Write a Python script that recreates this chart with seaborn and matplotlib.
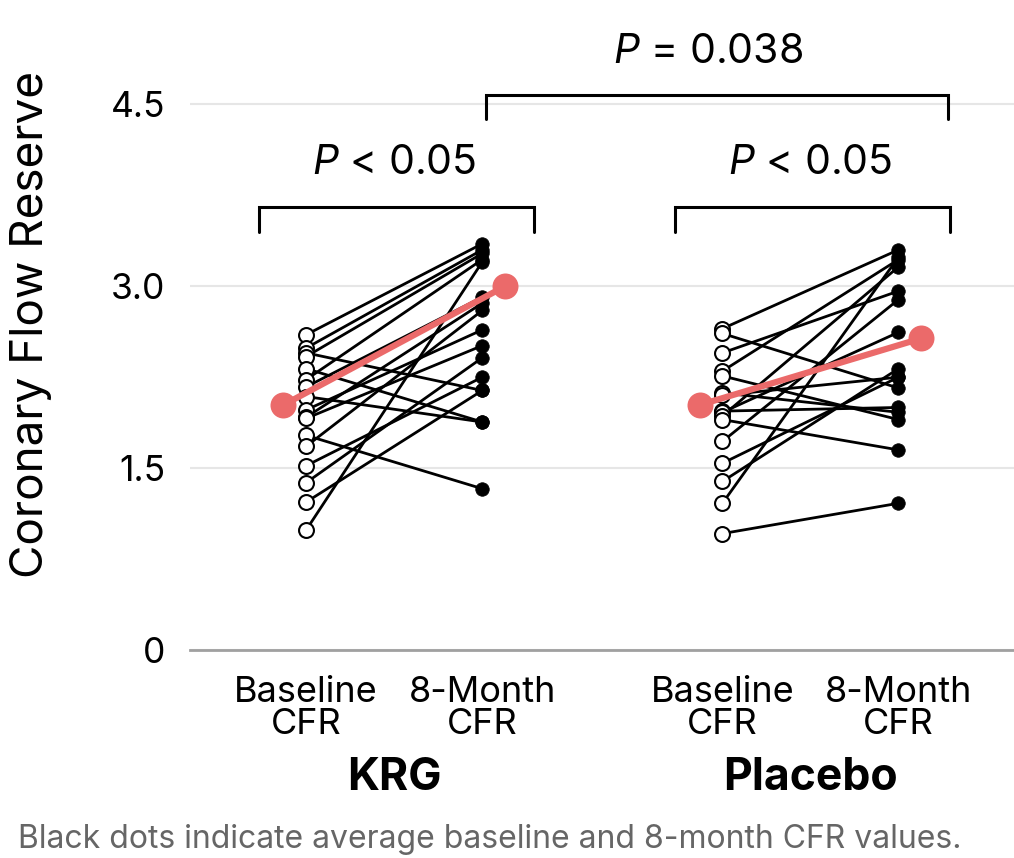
import numpy as np
import pandas as pd
import matplotlib
matplotlib.use("Agg")
import matplotlib.pyplot as plt
import seaborn as sns

# Datos
groups = ["KRG", "Placebo"]
time_labels = ["Baseline\nCFR", "8-Month\nCFR"]

krg_baseline = [2.60, 2.49, 2.45, 2.42, 2.32, 2.23, 2.17, 2.09, 1.98, 1.92,
                1.91, 1.77, 1.68, 1.52, 1.38, 1.22, 0.99]
krg_month8 = [3.35, 3.30, 2.14, 3.27, 1.88, 3.22, 2.91, 1.88, 2.64, 2.86,
              2.51, 1.33, 2.80, 2.25, 2.41, 2.14, 3.20]

placebo_baseline = [2.65, 2.61, 2.45, 2.30, 2.26, 2.12, 2.10, 1.97, 1.96, 1.93,
                    1.90, 1.72, 1.54, 1.39, 1.21, 0.96]
placebo_month8 = [3.30, 2.16, 2.96, 3.22, 1.90, 1.96, 2.25, 2.00, 2.62, 3.16,
                  1.65, 2.89, 2.25, 2.32, 3.24, 1.21]

mean_baseline = [2.02, 2.02]
mean_month8 = [3.00, 2.57]

p_within = ["$P$ < 0.05", "$P$ < 0.05"]
p_between = "$P$ = 0.038"

y_ticks = [0, 1.5, 3.0, 4.5]
y_ticklabels = ["0", "1.5", "3.0", "4.5"]

# Estilo global
sns.set_theme(style="white")
plt.rcParams["font.family"] = ["Inter", "DejaVu Sans"]
plt.rcParams.update({
    "mathtext.fontset": "custom",
    "mathtext.it": "Inter:italic",
    "mathtext.rm": "Inter",
    "text.color": "black",
    "axes.labelcolor": "black",
    "xtick.color": "black",
    "ytick.color": "black",
})

RED = "#EB6A6A"
GROUP_OFFSET = 2.364
MEAN_SHIFT = 0.13

rows = []
for g, (base, m8) in enumerate([(krg_baseline, krg_month8),
                                (placebo_baseline, placebo_month8)]):
    for i, (b, m) in enumerate(zip(base, m8)):
        rows.append({"pid": f"{g}-{i}", "x": g * GROUP_OFFSET, "cfr": b, "time": "base"})
        rows.append({"pid": f"{g}-{i}", "x": g * GROUP_OFFSET + 1, "cfr": m, "time": "m8"})
df = pd.DataFrame(rows)

means = []
for g in range(len(groups)):
    means.append({"grp": g, "x": g * GROUP_OFFSET - MEAN_SHIFT, "cfr": mean_baseline[g]})
    means.append({"grp": g, "x": g * GROUP_OFFSET + 1 + MEAN_SHIFT, "cfr": mean_month8[g]})
df_mean = pd.DataFrame(means)

fig = plt.figure(figsize=(10.14, 8.58), dpi=100)
ax = fig.add_axes([190 / 1014, 208 / 858, 824 / 1014, 650 / 858])

# Líneas pareadas por paciente
sns.lineplot(data=df, x="x", y="cfr", units="pid", estimator=None,
             color="black", lw=2.0, ax=ax, legend=False, zorder=3)
sns.scatterplot(data=df[df.time == "base"], x="x", y="cfr", s=115,
                facecolor="white", edgecolor="black", linewidth=1.5, ax=ax, zorder=4)
sns.scatterplot(data=df[df.time == "m8"], x="x", y="cfr", s=95,
                color="black", edgecolor="black", linewidth=0.5, ax=ax, zorder=4)

# Medias
sns.lineplot(data=df_mean, x="x", y="cfr", units="grp", estimator=None,
             color=RED, lw=4.5, ax=ax, legend=False, zorder=5)
sns.scatterplot(data=df_mean, x="x", y="cfr", s=300, color=RED,
                edgecolor=RED, ax=ax, zorder=6)

ax.set_xlim(-0.66, 4.02)
ax.set_ylim(0, 5.36)
ax.set_yticks(y_ticks)
ax.set_yticklabels(y_ticklabels, fontsize=25.5)
ax.yaxis.grid(True, color="#e6e6e6", lw=1.5)
ax.set_axisbelow(True)
for s in ["top", "right", "left"]:
    ax.spines[s].set_visible(False)
ax.spines["bottom"].set_color("#a0a0a0")
ax.spines["bottom"].set_linewidth(2)
ax.tick_params(axis="y", length=0, pad=18)
ax.tick_params(axis="x", length=0, pad=19)

xpos = [0, 1, GROUP_OFFSET, GROUP_OFFSET + 1]
ax.set_xticks(xpos)
ax.set_xticklabels(time_labels * 2, fontsize=26, linespacing=0.95)
ax.set_xlabel("")
ax.set_ylabel("Coronary Flow Reserve", fontsize=33)
ax.yaxis.set_label_coords(-0.167, 0.5)

# Nombres de grupo
for g, name in enumerate(groups):
    ax.text(g * GROUP_OFFSET + 0.5, -1.055, name, ha="center", va="center",
            fontsize=32, fontweight="bold")

# Corchetes de significancia
def bracket(x0, x1, y, drop, label, tx, ty):
    ax.plot([x0, x0, x1, x1], [y - drop, y, y, y - drop], color="black",
            lw=2.2, clip_on=False, solid_joinstyle="miter")
    ax.text(tx, ty, label, ha="center", va="center", fontsize=29.5)

for g in range(len(groups)):
    x0 = g * GROUP_OFFSET
    bracket(x0 - 0.267, x0 + 1.295, 3.65, 0.2, p_within[g], x0 + 0.5, 4.02)
bracket(1.023, GROUP_OFFSET + 1.28, 4.575, 0.2, p_between, 2.28, 4.93)

fig.text(18 / 1014, 3 / 858, "Black dots indicate average baseline and 8-month CFR values.",
         ha="left", va="bottom", fontsize=23, color="#666666")

fig.savefig("out.png", dpi=100)
plt.close(fig)
